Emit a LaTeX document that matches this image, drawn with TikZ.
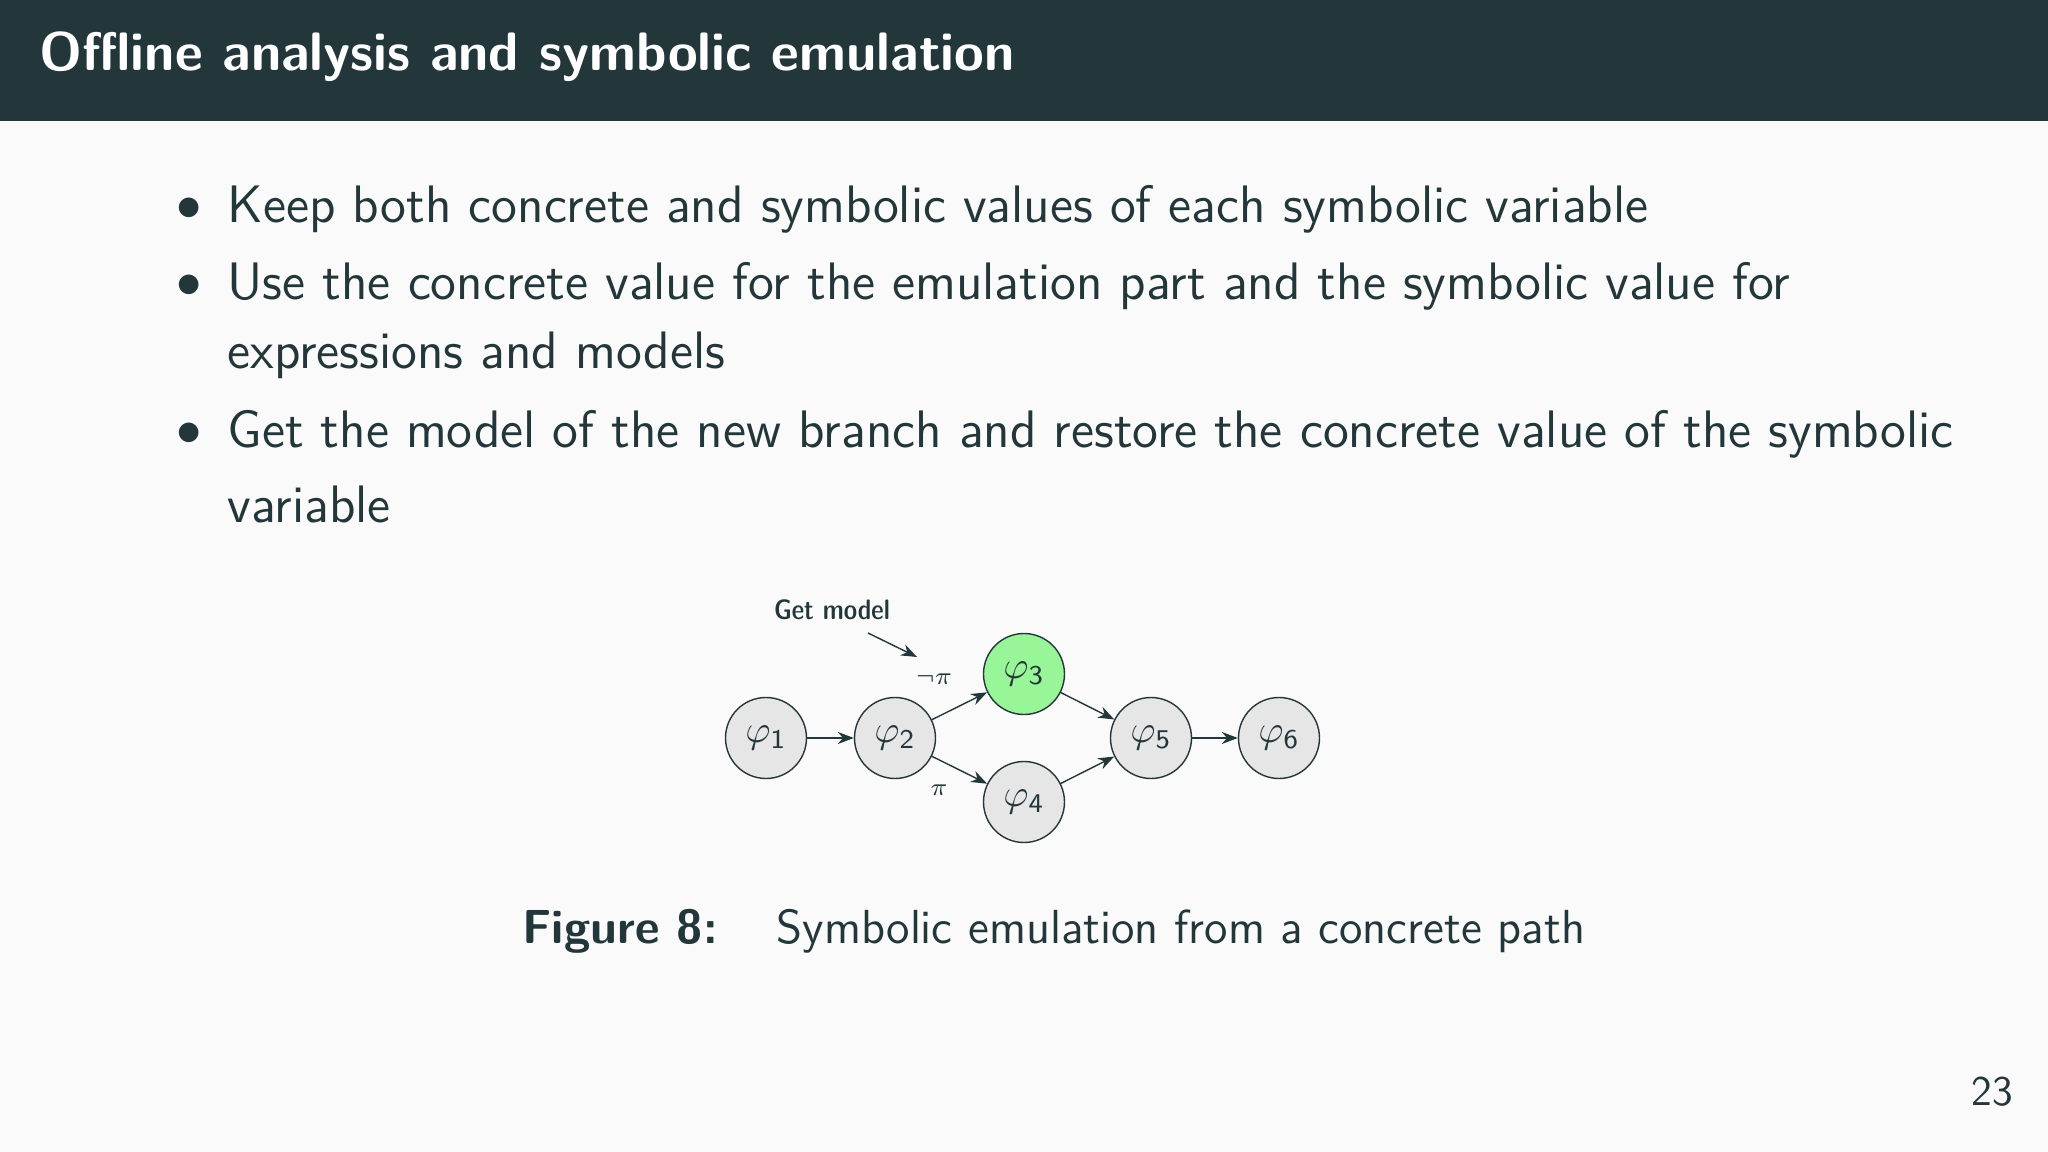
\documentclass[tikz,border=0pt]{standalone}
\usepackage{amsmath}
\usetikzlibrary{arrows.meta, positioning}
\definecolor{mdark}{HTML}{23373B}
\definecolor{mbg}{HTML}{FAFAFA}
\definecolor{mnode}{HTML}{E6E6E6}
\definecolor{mgreen}{HTML}{98F598}
\newcommand{\phin}[1]{$\varphi_{\textsf{#1}}$}

\begin{document}
\begin{tikzpicture}[state/.style={circle, draw=mdark, fill=mnode, minimum size=0.81cm, inner sep=0pt, font=\fontsize{11}{11}\selectfont},
		bullet/.style={anchor=west, inner sep=0pt, text=mdark, font=\sffamily\fontsize{15}{18}\selectfont},
		>={Stealth[length=1.6mm]}]
		\useasboundingbox[fill=mbg] (0,0) rectangle (20.48,-11.52);
		\fill[mdark] (0,0) rectangle (20.48,-1.21);
		\node[anchor=west, inner sep=0pt, text=white, font=\sffamily\bfseries\fontsize{15.4}{18}\selectfont] (title) at (0.39,-0.57) {Offline analysis and symbolic emulation};
		% bullets
		\foreach \y in {2.09, 2.86, 4.34}
			\node[text=mdark, font=\fontsize{15}{18}\selectfont] at (1.89,-\y) {$\bullet$};
		\node[bullet] (b1) at (2.27,-2.09) {Keep both concrete and symbolic values of each symbolic variable};
		\node[bullet] (b2) at (2.27,-2.86) {Use the concrete value for the emulation part and the symbolic value for};
		\node[bullet] (b2b) at (2.27,-3.55) {expressions and models};
		\node[bullet] (b3) at (2.27,-4.34) {Get the model of the new branch and restore the concrete value of the symbolic};
		\node[bullet] (b3b) at (2.27,-5.04) {variable};
		% graph
		\begin{scope}[text=mdark, draw=mdark]
			\node[state] (p1) at (7.66,-7.38) {\phin{1}};
			\node[state] (p2) at (8.95,-7.38) {\phin{2}};
			\node[state, fill=mgreen] (p3) at (10.24,-6.74) {\phin{3}};
			\node[state] (p4) at (10.24,-8.02) {\phin{4}};
			\node[state] (p5) at (11.51,-7.38) {\phin{5}};
			\node[state] (p6) at (12.79,-7.38) {\phin{6}};
			\draw[->, mdark] (p1) -- (p2);
			\draw[->, mdark] (p2) -- (p3);
			\draw[->, mdark] (p2) -- (p4);
			\draw[->, mdark] (p3) -- (p5);
			\draw[->, mdark] (p4) -- (p5);
			\draw[->, mdark] (p5) -- (p6);
			\node[font=\fontsize{7}{7}\selectfont] (neg) at (9.34,-6.79) {$\neg\pi$};
			\node[font=\fontsize{7}{7}\selectfont] (pos) at (9.39,-7.90) {$\pi$};
			\node[font=\sffamily\fontseries{sbc}\selectfont\fontsize{8}{8}\selectfont] (gm) at (8.32,-6.10) {Get model};
			\coordinate (gs) at (8.68,-6.33);
			\coordinate (ge) at (9.17,-6.57);
			\draw[->, mdark] (gs) -- (ge);
		\end{scope}
		% caption
		\node[anchor=west, inner sep=0pt, text=mdark, font=\sffamily\fontsize{13.6}{16}\selectfont] (cap) at (5.22,-9.31) {\textbf{Figure 8:}\hspace{0.8em} Symbolic emulation from a concrete path};
		\node[text=mdark, font=\sffamily\fontsize{12}{14}\selectfont] (page) at (19.92,-10.92) {23};
	\end{tikzpicture}
\end{document}
